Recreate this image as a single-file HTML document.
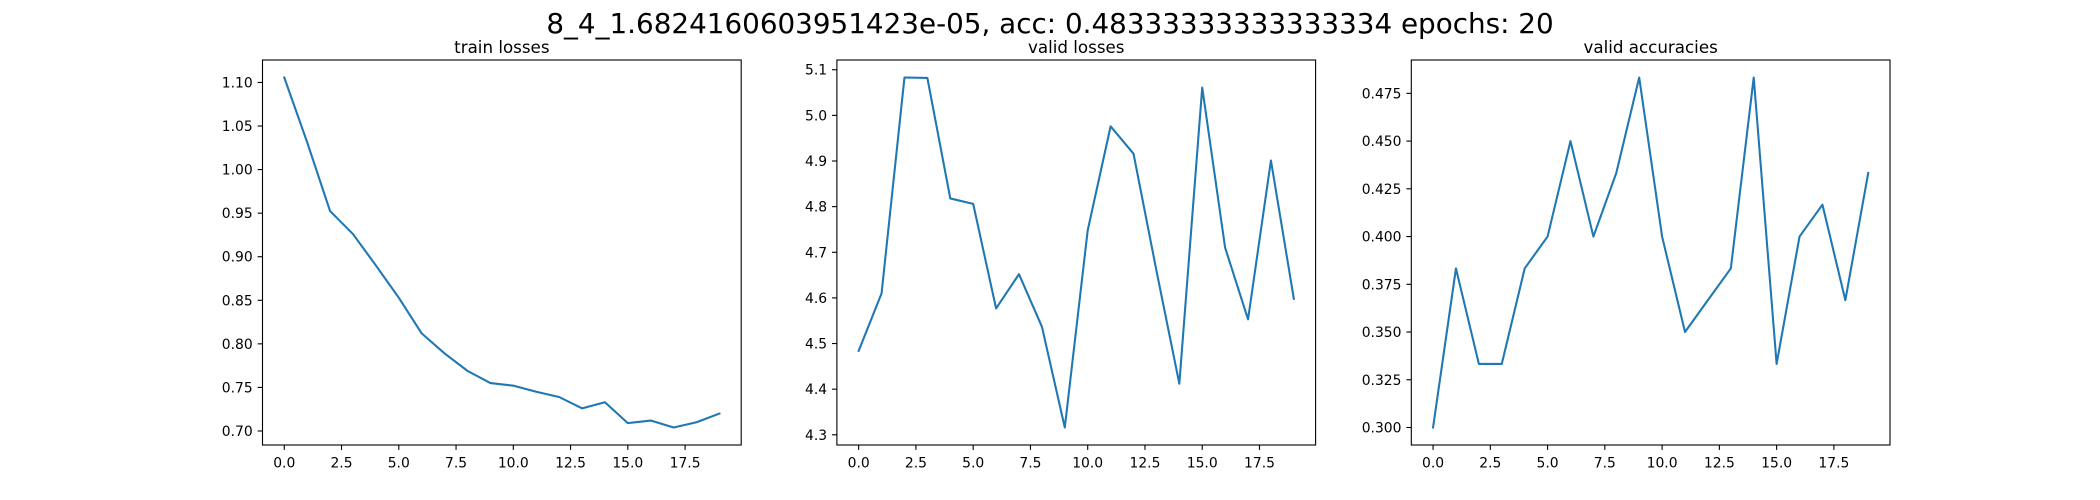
<!DOCTYPE html>
<html><head><meta charset="utf-8"><style>
html,body{margin:0;padding:0;background:#fff;}
svg{display:block;font-family:"DejaVu Sans","Liberation Sans",sans-serif;}
</style></head><body>
<svg id="fig" width="2100" height="500" viewBox="0 0 2100 500" xmlns="http://www.w3.org/2000/svg">
<rect x="0" y="0" width="2100" height="500" fill="#fff"/>
<text x="1050" y="33" font-size="27.8" text-anchor="middle">8_4_1.6824160603951423e-05, acc: 0.48333333333333334 epochs: 20</text>
</svg>
<script>
const epochs = [0,1,2,3,4,5,6,7,8,9,10,11,12,13,14,15,16,17,18,19];
const trainLosses = [1.1057,1.0314,0.9524,0.926,0.890,0.853,0.812,0.789,0.769,0.755,0.752,0.745,0.739,0.726,0.733,0.709,0.712,0.704,0.710,0.720];
const validLosses = [4.484,4.61,5.083,5.082,4.818,4.806,4.577,4.652,4.537,4.316,4.748,4.976,4.916,4.66,4.412,5.061,4.71,4.553,4.901,4.598];
const validAccs = [0.3,0.3833,0.3333,0.3333,0.3833,0.4,0.45,0.4,0.4333,0.4833,0.4,0.35,0.3667,0.3833,0.4833,0.3333,0.4,0.4167,0.3667,0.4333];
const xTicks = [0,2.5,5,7.5,10,12.5,15,17.5];
const xTickLabels = ["0.0","2.5","5.0","7.5","10.0","12.5","15.0","17.5"];
const trainTicks = [0.70,0.75,0.80,0.85,0.90,0.95,1.00,1.05,1.10];
const trainTickLabels = ["0.70","0.75","0.80","0.85","0.90","0.95","1.00","1.05","1.10"];
const vlTicks = [4.3,4.4,4.5,4.6,4.7,4.8,4.9,5.0,5.1];
const vlTickLabels = ["4.3","4.4","4.5","4.6","4.7","4.8","4.9","5.0","5.1"];
const vaTicks = [0.300,0.325,0.350,0.375,0.400,0.425,0.450,0.475];
const vaTickLabels = ["0.300","0.325","0.350","0.375","0.400","0.425","0.450","0.475"];

const NS = "http://www.w3.org/2000/svg";
const svg = document.getElementById('fig');
function mk(tag, attrs, parent){
  const e = document.createElementNS(NS, tag);
  for (const k in attrs) e.setAttribute(k, attrs[k]);
  (parent||svg).appendChild(e);
  return e;
}
const TOP = 60, BOT = 445;
function panel(left, right, title, ys, yt, ytl, key){
  const g = mk('g', {});
  
  
  const xmin = Math.min(...epochs), xmax = Math.max(...epochs);
  const xpad = (xmax - xmin) * 0.05;
  const ymin = Math.min(...ys), ymax = Math.max(...ys);
  const ypad = (ymax - ymin) * 0.05;
  const X = v => left + (v - (xmin - xpad)) / ((xmax + xpad) - (xmin - xpad)) * (right - left);
  const Y = v => BOT - (v - (ymin - ypad)) / ((ymax + ypad) - (ymin - ypad)) * (BOT - TOP);
  const t = mk('text', {x:(left+right)/2, y:TOP-7, 'font-size':16.7, 'text-anchor':'middle'}, g);
  t.textContent = title;
  
  
  xTicks.forEach((v,i) => {
    const x = X(v);
    mk('line', {x1:x, x2:x, y1:BOT, y2:BOT+4.9, stroke:'#000', 'stroke-width':1.1}, g);
    const tl = mk('text', {x:x, y:BOT+22.5, 'font-size':13.9, 'text-anchor':'middle'}, g);
    tl.textContent = xTickLabels[i];
    
    
  });
  yt.forEach((v,i) => {
    const y = Y(v);
    if (y < TOP - 1 || y > BOT + 1) return;
    mk('line', {x1:left-4.9, x2:left, y1:y, y2:y, stroke:'#000', 'stroke-width':1.1}, g);
    const tl = mk('text', {x:left-9.8, y:y+5, 'font-size':13.9, 'text-anchor':'end'}, g);
    tl.textContent = ytl[i];
    
    
  });
  const pts = ys.map((v,i) => X(epochs[i]).toFixed(2) + ',' + Y(v).toFixed(2)).join(' ');
  const pl = mk('polyline', {points:pts, fill:'none', stroke:'#1f77b4', 'stroke-width':2.08, 'stroke-linejoin':'round', 'stroke-linecap':'square'}, g);
  
  
  const fr = mk('rect', {x:left, y:TOP, width:right-left, height:BOT-TOP, fill:'none', stroke:'#000', 'stroke-width':1.1}, g);
  
  
}
panel(262.5, 741.2, 'train losses', trainLosses, trainTicks, trainTickLabels, 'train-losses');
panel(836.9, 1315.6, 'valid losses', validLosses, vlTicks, vlTickLabels, 'valid-losses');
panel(1411.3, 1890, 'valid accuracies', validAccs, vaTicks, vaTickLabels, 'valid-accuracies');
</script>
</body></html>
